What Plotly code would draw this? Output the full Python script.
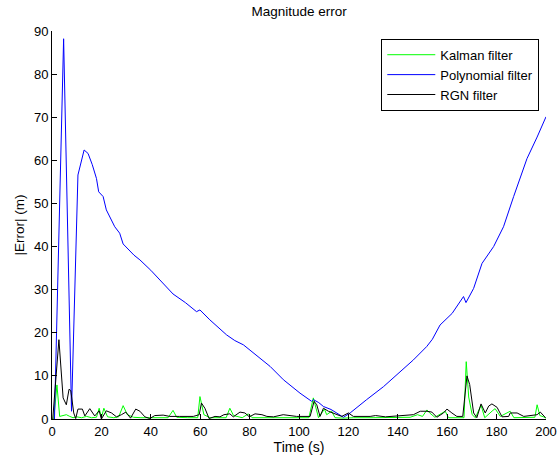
import plotly.graph_objects as go

# ---- data ----
poly_t = [1.0, 2.2, 4.7, 7.9, 9.5, 10.5, 13.0, 14.6, 16.3, 18.0, 18.9, 20.7, 22.0, 25.4, 27.4, 28.8,
          33.2, 35.6, 40.0, 43.7, 49.0, 54.0, 58.5, 59.9, 63.9, 70.7, 74.0, 77.5, 81.5, 84.0, 88.3,
          93.7, 97.0, 100.4, 105.1, 105.8, 108.0, 109.9, 113.0, 116.0, 118.0, 120.7, 124.0, 127.4,
          134.2, 140.9, 146.3, 151.7, 154.0, 157.1, 162.0, 166.6, 167.6, 170.7, 174.1, 178.8, 182.8,
          186.9, 192.3, 196.4, 200.0]
poly_v = [0.0, 29.0, 88.2, 1.8, 38.4, 56.6, 62.4, 61.6, 59.0, 55.8, 52.7, 51.6, 48.5, 44.6, 43.1, 40.6,
          38.0, 36.9, 34.5, 32.3, 29.0, 27.0, 24.9, 25.3, 23.0, 19.5, 18.2, 17.2, 15.3, 14.2, 12.2,
          9.1, 7.5, 6.0, 4.1, 4.5, 3.8, 2.9, 2.2, 1.2, 0.4, 1.4, 3.0, 4.5,
          7.5, 11.0, 13.7, 16.8, 18.5, 21.8, 24.5, 28.4, 27.0, 30.3, 36.1, 40.0, 44.6,
          51.6, 60.4, 65.4, 70.1]

rgn_t = [0.3, 2.8, 4.5, 5.8, 6.9, 7.6, 8.8, 9.6, 10.5, 12.3, 13.3, 15.3, 17.3, 19.1, 20.0, 22.0, 24.1,
         26.1, 28.1, 29.9, 31.8, 33.9, 35.6, 37.6, 39.6, 41.6, 45.0, 47.7, 51.7, 57.2, 59.6, 60.5,
         61.9, 63.6, 66.0, 68.0, 69.6, 72.0, 73.4, 76.1, 78.1, 79.9, 82.2, 85.0, 87.0, 89.7, 93.6,
         99.0, 104.5, 106.1, 107.2, 108.5, 109.9, 111.9, 114.6, 117.3, 120.0, 122.0, 128.8, 131.0,
         135.0, 140.0, 146.3, 149.1, 151.8, 153.8, 155.8, 158.5, 159.9, 161.9, 163.9, 166.3, 168.0,
         169.1, 170.7, 172.0, 173.7, 175.4, 176.8, 178.1, 180.2, 182.2, 184.9, 185.5, 188.3, 191.0,
         193.6, 196.4, 197.7, 198.8, 199.8]
rgn_v = [0.0, 18.4, 4.9, 3.3, 6.9, 6.6, 1.4, 0.1, 2.3, 2.3, 0.7, 2.4, 0.7, 1.9, 0.0, 1.9, 1.4,
         0.5, 1.0, 1.6, 0.2, 2.3, 1.8, 0.5, 0.1, 0.8, 0.9, 0.6, 0.6, 0.6, 1.0, 3.7,
         2.5, 0.1, 0.6, 0.5, 1.0, 1.2, 0.5, 1.6, 1.4, 0.5, 1.2, 1.0, 0.6, 0.5, 1.0,
         0.6, 0.6, 4.1, 3.3, 0.6, 2.5, 1.8, 1.2, 0.6, 1.4, 0.6, 0.6, 0.8,
         0.5, 0.7, 1.0, 1.8, 1.8, 1.6, 0.4, 1.4, 2.3, 1.4, 0.6, 0.6, 10.0,
         8.0, 1.4, 0.3, 3.5, 1.4, 3.0, 3.5, 2.7, 0.5, 0.6, 1.4, 1.4, 0.6,
         0.8, 1.0, 1.6, 1.0, 0.3]

kal_t = [0.7, 2.0, 3.1, 4.5, 5.8, 7.2, 8.5, 10.0, 12.0, 14.0, 16.0, 18.0, 19.1, 20.0, 21.0, 22.5, 25.0,
         27.0, 28.8, 30.5, 33.0, 36.0, 40.0, 44.0, 47.0, 49.0, 50.5, 55.0, 59.0, 59.9, 61.5, 64.0,
         68.0, 70.5, 72.0, 73.5, 77.0, 79.5, 81.0, 85.0, 90.0, 95.0, 100.0, 104.0, 105.8, 107.9,
         110.3, 111.2, 113.2, 114.6, 118.0, 122.0, 130.0, 140.0, 145.0, 148.0, 150.0, 151.8, 152.9,
         155.0, 159.2, 160.5, 165.0, 166.8, 167.7, 168.7, 170.1, 171.4, 173.7, 175.2, 178.5, 179.4,
         181.5, 185.5, 187.0, 192.0, 195.5, 196.4, 197.5, 199.0, 200.0]
kal_v = [0.0, 7.9, 0.6, 0.8, 1.0, 0.6, 0.3, 0.5, 0.3, 0.6, 0.3, 0.4, 2.5, 0.3, 2.5, 0.5, 0.3,
         0.5, 3.1, 1.0, 0.4, 0.3, 0.3, 0.3, 0.3, 2.0, 0.4, 0.3, 0.3, 5.2, 1.0, 0.3,
         0.3, 0.3, 2.5, 0.8, 0.3, 1.2, 0.3, 0.3, 0.3, 0.4, 0.3, 0.3, 4.9, 0.3,
         2.3, 1.0, 1.8, 0.3, 0.2, 0.3, 0.3, 0.3, 0.4, 1.0, 0.6, 2.1, 1.4,
         0.4, 1.8, 0.3, 0.3, 0.3, 13.3, 5.1, 1.0, 0.3, 3.2, 0.3, 2.0, 2.4,
         0.6, 1.8, 0.3, 0.4, 0.4, 3.3, 0.8, 0.5, 0.2]

x_ticks = [0, 20, 40, 60, 80, 100, 120, 140, 160, 180, 200]
y_ticks = [0, 10, 20, 30, 40, 50, 60, 70, 80, 90]

FONT = "Liberation Sans, Arial, Helvetica, sans-serif"

fig = go.Figure()
fig.add_trace(go.Scatter(x=kal_t, y=kal_v, mode="lines", name="Kalman filter",
                         line=dict(color="#00ff00", width=1)))
fig.add_trace(go.Scatter(x=poly_t, y=poly_v, mode="lines", name="Polynomial filter",
                         line=dict(color="#0000ff", width=1)))
fig.add_trace(go.Scatter(x=rgn_t, y=rgn_v, mode="lines", name="RGN filter",
                         line=dict(color="#000000", width=1)))

fig.update_layout(
    width=557, height=457,
    margin=dict(l=52, r=11, t=31, b=38, autoexpand=False),
    paper_bgcolor="white", plot_bgcolor="white",
    font=dict(family=FONT, size=13, color="#000000"),
    title=dict(text="Magnitude error", x=0.537, xanchor="center", y=0.985, yanchor="top",
               font=dict(size=13.5)),
    legend=dict(x=0.9864, xanchor="right", y=0.980, yanchor="top",
                bordercolor="#000000", borderwidth=1, bgcolor="white",
                font=dict(size=13), tracegroupgap=0, itemwidth=48),
    showlegend=True,
)
fig.update_xaxes(range=[0, 200], tickvals=x_ticks, ticks="inside", ticklen=5,
                 tickcolor="#000000", showline=True, linecolor="#000000", linewidth=1,
                 showgrid=False, zeroline=False, mirror=False, automargin=False,
                 tickfont=dict(size=13),
                 title=dict(text="Time (s)", standoff=1, font=dict(size=14)))
fig.update_yaxes(range=[0, 90], tickvals=y_ticks, ticks="inside", ticklen=5,
                 tickcolor="#000000", showline=True, linecolor="#000000", linewidth=1,
                 showgrid=False, zeroline=False, mirror=False, automargin=False,
                 tickfont=dict(size=13),
                 title=dict(text="|Error| (m)", standoff=6, font=dict(size=13.5)))

fig.write_html("out.html")
